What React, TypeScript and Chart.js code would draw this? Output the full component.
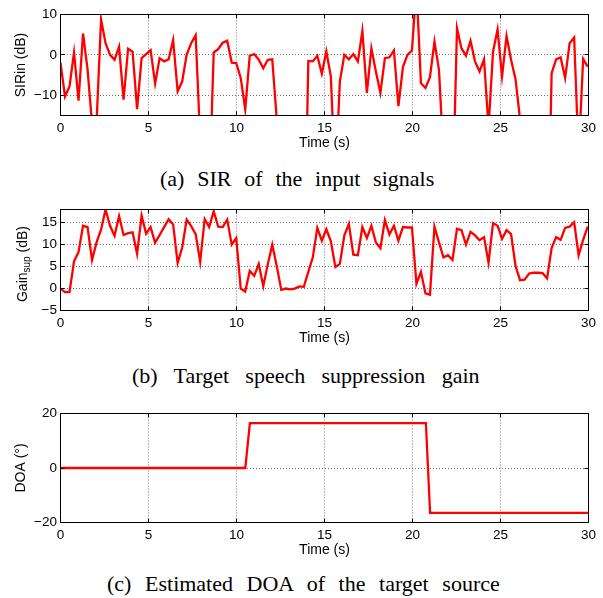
import React, { useEffect, useRef } from "react";
import { Chart, registerables } from "chart.js";

Chart.register(...registerables);

// ---------- data ----------
const FRAME_STEP = 0.256; // seconds between analysis frames

const TIME_TICKS = [0, 5, 10, 15, 20, 25, 30];

// (a) SIR of the input signals (dB), one value per frame
const SIR_IN = [
  -2.0, -10.3, -7.8, 0.6, -11.3, 5.3, -3.5, -17, -17, 8.8,
  2.9, 0.0, -1.2, 2.0, -11.1, 1.5, 0.8, -13.4, -0.8, 0.2,
  1.2, -7.1, -0.8, -1.6, -1.1, 3.7, -9.0, -6.6, 0.0, 2.9,
  4.9, -21, -35, -35, 0.6, 1.4, 3.0, 3.5, -1.9, -2.0,
  -5.7, -13.5, -0.2, 0.2, -1.2, -3.3, -1.2, -1.1, -16, -30,
  -30, -30, -30, -30, -60, -1.5, -1.6, -0.2, -4.6, 0.9,
  -5.3, -32, -6.6, 0.0, -1.1, 0.2, -1.6, 5.9, -9.4, 1.6,
  -4.1, -9.4, -0.8, -0.6, 1.1, -12.7, -3.0, 0.0, 1.1, 17,
  -7.0, -8.2, -5.5, 3.3, -3.7, -25, -38, -38, 6.6, 1.6,
  -0.2, 3.5, -1.6, -4.1, -1.1, -18, 0.8, 6.3, -5.3, 4.7,
  -1.2, -6.1, -16, -30, -30, -30, -30, -30, -60, -4.5,
  -1.1, -0.6, -5.7, 2.9, 4.3, -25, -1.0, -2.9,
];
const SIR_TICKS = [-10, 0, 10];

// (b) Target speech suppression gain (dB), one value per frame
const GAIN_SUP = [
  0.0, -0.8, -0.8, 6.2, 8.3, 14.3, 14.0, 6.5, 10.5, 13.4,
  18.0, 14.3, 12.0, 16.5, 12.2, 12.6, 12.8, 7.9, 16.6, 12.5,
  14.0, 10.4, 12.2, 14.0, 15.8, 14.6, 5.8, 9.3, 15.7, 14.2,
  12.4, 6.1, 15.8, 14.0, 17.6, 14.1, 14.0, 15.7, 10.0, 11.5,
  0.0, -0.7, 4.0, 2.9, 5.6, 0.5, 5.5, 10.0, 5.1, -0.3,
  0.0, -0.2, 0.0, 0.5, 0.4, 3.8, 7.1, 13.8, 10.9, 13.5,
  10.8, 4.9, 5.6, 12.1, 14.7, 7.7, 7.6, 14.0, 11.5, 14.3,
  10.5, 9.2, 15.6, 12.3, 14.3, 10.9, 14.0, 13.9, 13.9, 1.1,
  3.8, -1.1, -1.4, 14.1, 10.5, 7.1, 7.6, 6.5, 13.6, 13.3,
  10.0, 12.9, 12.1, 11.0, 11.7, 5.9, 14.9, 14.3, 11.3, 13.3,
  12.4, 5.1, 1.9, 2.0, 3.4, 3.6, 3.6, 3.5, 2.3, 9.2,
  11.7, 11.1, 13.8, 14.1, 15.1, 7.6, 11.1, 14.1,
];
const GAIN_TICKS = [-5, 0, 5, 10, 15];

// (c) Estimated DOA of the target source (degrees)
const DOA_TIMES = [0, 10.5, 10.76, 20.76, 21.0, 30];
const DOA_VALUES = [0, 0, 16.5, 16.5, -16.5, -16.5];
const DOA_TICKS = [-20, 0, 20];

const X_TITLE = "Time (s)";
const SIR_TITLE = "SIRin (dB)";
const GAIN_TITLE_PARTS = ["Gain", "sup", " (dB)"];
const DOA_TITLE = "DOA (\u00b0)";

const CAPTIONS = [
  "(a) SIR of the input signals",
  "(b) Target speech suppression gain",
  "(c) Estimated DOA of the target source",
];

// ---------- styling ----------
const SANS = '"Liberation Sans", Arial, Helvetica, sans-serif';
const SERIF = '"Liberation Serif", "Times New Roman", Times, serif';
const RED = "#ff0000";
const WIDTH = 603;

type Pt = { x: number; y: number };

type Panel = {
  top: number;
  height: number;
  yMin: number;
  yMax: number;
  yTicks: number[];
  yTitle: string | null;
  points: Pt[];
};

const framePoints = (vals: number[]): Pt[] =>
  vals.map((v, i) => ({ x: i * FRAME_STEP, y: v }));

const PANELS: Panel[] = [
  { top: 0, height: 152, yMin: -15, yMax: 10, yTicks: SIR_TICKS, yTitle: SIR_TITLE, points: framePoints(SIR_IN) },
  { top: 195, height: 152, yMin: -5, yMax: 18, yTicks: GAIN_TICKS, yTitle: null, points: framePoints(GAIN_SUP) },
  {
    top: 399,
    height: 160,
    yMin: -20,
    yMax: 20,
    yTicks: DOA_TICKS,
    yTitle: DOA_TITLE,
    points: DOA_TIMES.map((t, i) => ({ x: t, y: DOA_VALUES[i] })),
  },
];

const CAPTION_LAYOUT = [
  { left: 160, top: 167, wordSpacing: 7.3 },
  { left: 132, top: 364, wordSpacing: 10.8 },
  { left: 107, top: 572, wordSpacing: 8.1 },
];

const minusFmt = (v: number | string) => String(v).replace("-", "\u2212");

const boxPlugin = {
  id: "matlabBox",
  afterDatasetsDraw(chart: any) {
    const { ctx, chartArea: a, scales } = chart;
    const L = 4;
    ctx.save();
    ctx.strokeStyle = "#000";
    ctx.lineWidth = 1;
    ctx.beginPath();
    for (const t of TIME_TICKS) {
      const x = Math.floor(scales.x.getPixelForValue(t)) + 0.5;
      ctx.moveTo(x, a.bottom);
      ctx.lineTo(x, a.bottom - L);
      ctx.moveTo(x, a.top);
      ctx.lineTo(x, a.top + L);
    }
    for (const tk of scales.y.ticks) {
      const y = Math.floor(scales.y.getPixelForValue(tk.value)) + 0.5;
      ctx.moveTo(a.left, y);
      ctx.lineTo(a.left + L, y);
      ctx.moveTo(a.right, y);
      ctx.lineTo(a.right - L, y);
    }
    ctx.stroke();
    ctx.strokeRect(a.left, a.top, a.right - a.left, a.bottom - a.top);
    ctx.restore();
  },
};

const gainTitlePlugin = {
  id: "gainTitle",
  afterDraw(chart: any) {
    const { ctx, chartArea: a } = chart;
    const big = `14px ${SANS}`;
    const small = `10px ${SANS}`;
    ctx.save();
    ctx.fillStyle = "#000";
    ctx.textAlign = "left";
    ctx.textBaseline = "alphabetic";
    ctx.font = big;
    const w1 = ctx.measureText(GAIN_TITLE_PARTS[0]).width;
    const w3 = ctx.measureText(GAIN_TITLE_PARTS[2]).width;
    ctx.font = small;
    const w2 = ctx.measureText(GAIN_TITLE_PARTS[1]).width;
    const total = w1 + w2 + w3;
    const cy = (a.top + a.bottom) / 2 + 4;
    ctx.translate(26.5, cy + total / 2);
    ctx.rotate(-Math.PI / 2);
    ctx.font = big;
    ctx.fillText(GAIN_TITLE_PARTS[0], 0, 0);
    ctx.font = small;
    ctx.fillText(GAIN_TITLE_PARTS[1], w1, 3.5);
    ctx.font = big;
    ctx.fillText(GAIN_TITLE_PARTS[2], w1 + w2, 0);
    ctx.restore();
  },
};

function buildChart(canvas: HTMLCanvasElement, p: Panel): Chart {
  const plugins: any[] = [boxPlugin];
  if (!p.yTitle) plugins.push(gainTitlePlugin);
  return new Chart(canvas, {
    type: "line",
    data: {
      datasets: [
        {
          data: p.points as any,
          borderColor: RED,
          borderWidth: 2.3,
          pointRadius: 0,
          tension: 0,
          fill: false,
          clip: 0 as any,
        },
      ],
    },
    options: {
      responsive: false,
      animation: false,
      events: [],
      layout: { padding: { top: 14.5, right: 14.5, bottom: 0, left: 0 } },
      plugins: { legend: { display: false }, tooltip: { enabled: false } },
      scales: {
        x: {
          type: "linear",
          min: 0,
          max: 30,
          afterBuildTicks: (s: any) => {
            s.ticks = TIME_TICKS.map((v) => ({ value: v }));
          },
          afterFit: (s: any) => {
            s.height = 36.5;
          },
          ticks: {
            color: "#000",
            font: { size: 13.5, family: SANS },
            padding: 5,
            maxRotation: 0,
            autoSkip: false,
            callback: (v: any) => minusFmt(v),
          },
          grid: { color: "rgba(0,0,0,0.55)", lineWidth: 1, drawTicks: false },
          border: { display: false, dash: [1, 2] },
          title: {
            display: true,
            text: X_TITLE,
            color: "#000",
            font: { size: 14, family: SANS },
            padding: { top: 0, bottom: 0 },
          },
        },
        y: {
          type: "linear",
          min: p.yMin,
          max: p.yMax,
          afterBuildTicks: (s: any) => {
            s.ticks = p.yTicks.map((v) => ({ value: v }));
          },
          afterFit: (s: any) => {
            s.width = 60.5;
          },
          ticks: {
            color: "#000",
            font: { size: 13.5, family: SANS },
            padding: 3.5,
            autoSkip: false,
            callback: (v: any) => minusFmt(v),
          },
          grid: { color: "rgba(0,0,0,0.55)", lineWidth: 1, drawTicks: false },
          border: { display: false, dash: [1, 2] },
          title: {
            display: !!p.yTitle,
            text: p.yTitle || "",
            color: "#000",
            font: { size: 14, family: SANS },
            padding: { top: 13, bottom: 0 },
          },
        },
      },
    },
    plugins,
  } as any);
}

function PanelChart({ panel }: { panel: Panel }) {
  const ref = useRef<HTMLCanvasElement | null>(null);
  useEffect(() => {
    if (!ref.current) return;
    const chart = buildChart(ref.current, panel);
    return () => chart.destroy();
  }, [panel]);
  return (
    <canvas
      ref={ref}
      width={WIDTH}
      height={panel.height}
      style={{ position: "absolute", left: 0, top: panel.top, display: "block" }}
    />
  );
}

export default function App() {
  return (
    <div
      style={{
        position: "absolute",
        left: 0,
        top: 0,
        width: WIDTH,
        height: 598,
        background: "#fff",
        overflow: "hidden",
      }}
    >
      {PANELS.map((p, i) => (
        <PanelChart key={i} panel={p} />
      ))}
      {CAPTIONS.map((c, i) => (
        <div
          key={"cap" + i}
          style={{
            position: "absolute",
            left: CAPTION_LAYOUT[i].left,
            top: CAPTION_LAYOUT[i].top,
            fontFamily: SERIF,
            fontSize: 22,
            lineHeight: "24px",
            wordSpacing: CAPTION_LAYOUT[i].wordSpacing,
            whiteSpace: "nowrap",
            color: "#000",
          }}
        >
          {c}
        </div>
      ))}
    </div>
  );
}
